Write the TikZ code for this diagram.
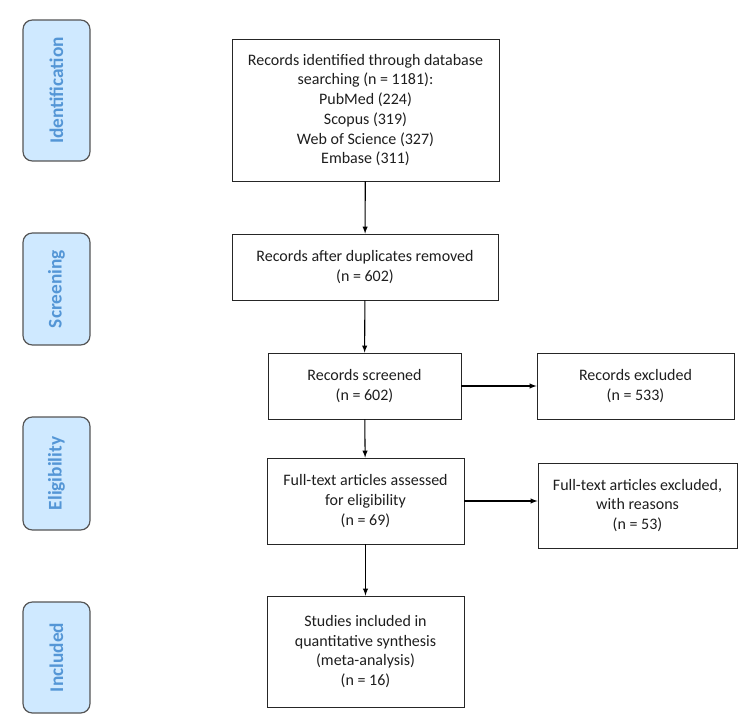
\documentclass[tikz,border=0pt]{standalone}
\usepackage{fontspec}
\setmainfont{Carlito}
\usepackage{xcolor}
\usetikzlibrary{shapes,arrows,positioning,calc}
\definecolor{phasefill}{RGB}{207,233,255}
\definecolor{phasetext}{RGB}{84,150,214}
\definecolor{phaseline}{RGB}{85,85,85}
\definecolor{boxtext}{RGB}{30,30,30}

\begin{document}
\begin{tikzpicture}[x=0.75pt, y=-0.75pt,
  >=latex,
  phase/.style={rectangle, rounded corners=7pt, draw=phaseline, line width=0.9pt, fill=phasefill, minimum width=50pt, text=phasetext, font=\fontsize{14.5}{16}\selectfont\bfseries, rotate=90},
  record/.style={rectangle, draw=black!85, line width=0.7pt, align=center, text=boxtext, font=\fontsize{12}{14.8}\selectfont},
  link/.style={->, line width=0.8pt}
]
\useasboundingbox (0,0) rectangle (756,720);

% Phase labels
\node[phase, minimum width=105.75pt, minimum height=50.25pt] (identification) at (56.5,90.5) {Identification};
\node[phase, minimum width=84pt, minimum height=50.25pt] (screening) at (56.5,289) {Screening};
\node[phase, minimum width=84.75pt, minimum height=50.25pt] (eligibility) at (56.5,473.5) {Eligibility};
\node[phase, minimum width=83.25pt, minimum height=50.25pt] (included) at (56.5,657.5) {Included};

% Main column
\node[record, minimum width=200.25pt, minimum height=106.5pt] (identified) at (365.5,110) {Records identified through database\\searching (n = 1181):\\PubMed (224)\\Scopus (319)\\Web of Science (327)\\Embase (311)};
\node[record, minimum width=199.5pt, minimum height=49.5pt] (dedup) at (365,267) {Records after duplicates removed\\(n = 602)};
\node[record, minimum width=144.75pt, minimum height=49.5pt] (screened) at (364.5,386) {Records screened\\(n = 602)};
\node[record, minimum width=147.75pt, minimum height=64.5pt] (fulltext) at (365.5,501) {Full-text articles assessed\\for eligibility\\(n = 69)};
\node[record, minimum width=147.75pt, minimum height=83.25pt] (synthesis) at (365.5,651.5) {Studies included in\\quantitative synthesis\\(meta-analysis)\\(n = 16)};

% Exclusions
\node[record, minimum width=147.75pt, minimum height=49.5pt] (excluded) at (635.5,386) {Records excluded\\(n = 533)};
\node[record, minimum width=149.25pt, minimum height=63.75pt] (ftexcluded) at (637.5,505.5) {Full-text articles excluded,\\with reasons\\(n = 53)};

% Connections
\draw[link] (identified) -- (dedup);
\draw[link] (dedup) -- (screened);
\draw[link] (screened) -- (fulltext);
\draw[link] (fulltext) -- (synthesis);
\draw[link] (screened) -- (excluded);
\draw[link] (fulltext.east) -- (fulltext.east -| ftexcluded.west);

\end{tikzpicture}
\end{document}
